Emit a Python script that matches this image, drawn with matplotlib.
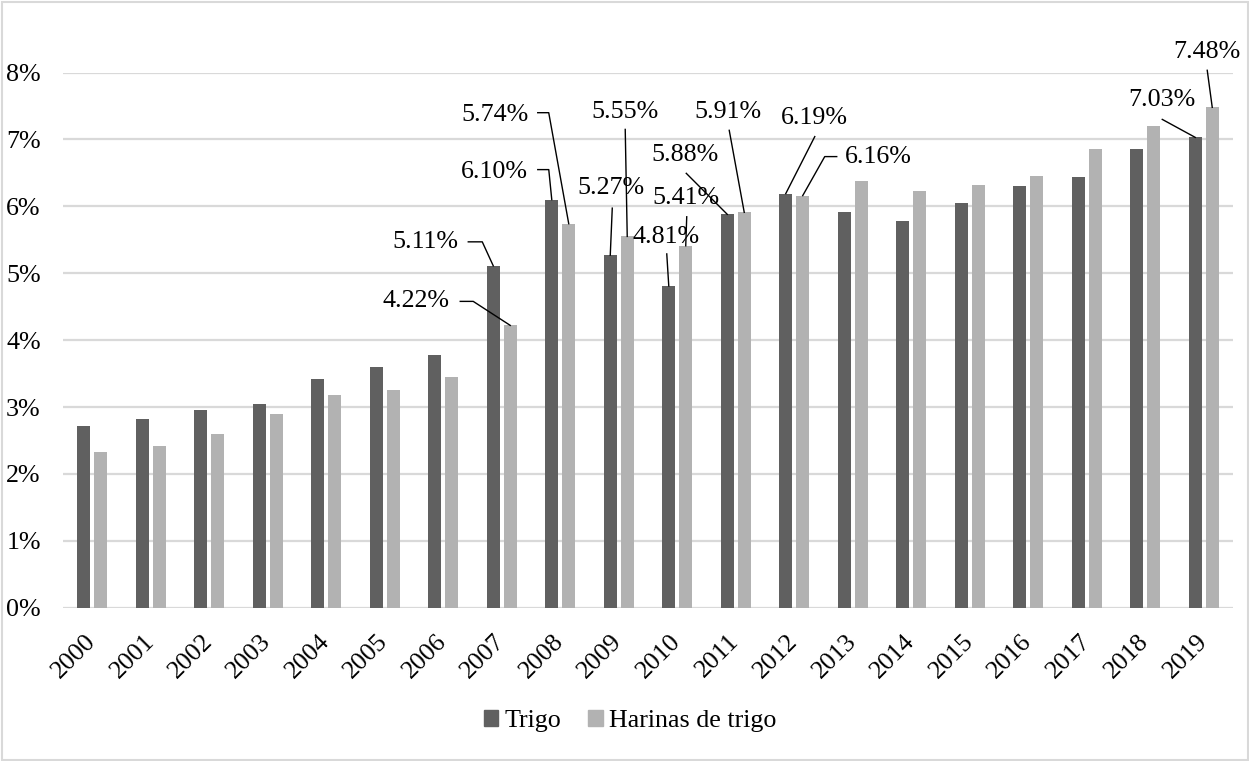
import matplotlib
matplotlib.use("Agg")
import matplotlib.pyplot as plt
import matplotlib.patches as mpatches
import numpy as np

plt.rcParams['font.family'] = ['Liberation Serif', 'DejaVu Serif']

years = [str(y) for y in range(2000, 2020)]
trigo = [2.71, 2.82, 2.95, 3.05, 3.42, 3.60, 3.77, 5.11, 6.10, 5.27,
         4.81, 5.88, 6.19, 5.92, 5.78, 6.05, 6.30, 6.44, 6.86, 7.03]
harinas = [2.33, 2.42, 2.60, 2.90, 3.18, 3.25, 3.45, 4.22, 5.74, 5.55,
           5.41, 5.91, 6.16, 6.38, 6.23, 6.32, 6.46, 6.85, 7.20, 7.48]
series_names = ["Trigo", "Harinas de trigo"]

# data labels: (series, year index, text offset px, leader-line offsets px)
labels = [
    (0, 7, (-68, 24), [(-25, 24), (-11, 24), (0, 0)]),
    (1, 7, (-94, 24), [(-50, 24), (-37, 24), (0, 0)]),
    (0, 8, (-57, 28), [(-14, 30), (-3, 30), (0, 0)]),
    (1, 8, (-74, 109), [(-31, 111), (-20, 111), (0, 0)]),
    (0, 9, (1, 67), [(2, 47), (0, 0)]),
    (1, 9, (-2, 124), [(-2, 107), (0, 0)]),
    (0, 10, (-3, 49), [(-2, 32), (0, 0)]),
    (1, 10, (0, 48), [(1, 29), (0, 0)]),
    (0, 11, (-42, 59), [(-41, 41), (0, 0)]),
    (1, 11, (-16, 100), [(-15, 82), (0, 0)]),
    (0, 12, (29, 76), [(29, 57), (0, 0)]),
    (1, 12, (76, 39), [(34, 39), (22, 39), (0, 0)]),
    (0, 19, (-33, 37), [(-33, 18), (0, 0)]),
    (1, 19, (-5, 55), [(-5, 37), (0, 0)]),
]

DARK = "#606060"
LIGHT = "#b2b2b2"
GRID = "#d9d9d9"
FS = 18.7

W, H = 1249, 761
fig = plt.figure(figsize=(W / 100, H / 100), dpi=100)
ax = fig.add_axes([63 / W, (H - 607.7) / H, (1233 - 63) / W, (607.7 - 72.5) / H])

x = np.arange(len(years))
bw = 0.22
off = 0.145
ax.bar(x - off, [v / 100 for v in trigo], bw, color=DARK, label=series_names[0], zorder=3)
ax.bar(x + off, [v / 100 for v in harinas], bw, color=LIGHT, label=series_names[1], zorder=3)

ax.set_xlim(-0.5, len(years) - 0.5)
ax.set_ylim(0, 0.08)
ax.set_yticks(np.arange(0, 0.081, 0.01))
ax.set_yticklabels([f"{int(round(t * 100))}%" for t in np.arange(0, 0.081, 0.01)], fontsize=FS)
ax.set_xticks(x)
ax.set_xticklabels(years, fontsize=FS, rotation=45, ha='right', va='center',
                   rotation_mode='anchor')
ax.tick_params(axis='y', length=0, pad=16)
ax.tick_params(axis='x', length=0, pad=22)
ax.grid(axis='y', color=GRID, linewidth=1.6, zorder=0)
for s in ax.spines.values():
    s.set_visible(False)

# data labels with leader lines
data = [trigo, harinas]
for si, yi, (tdx, tdy), pts in labels:
    v = data[si][yi]
    bx = x[yi] + (-off if si == 0 else off)
    anchor = ax.transData.transform((bx, v / 100))
    ax.text(anchor[0] + tdx, anchor[1] + tdy, f"{v:.2f}%", transform=None,
            ha='center', va='center', fontsize=FS, zorder=5)
    xs = [anchor[0] + p[0] for p in pts]
    ys = [anchor[1] + p[1] for p in pts]
    ax.plot(xs, ys, color='black', linewidth=1.0, transform=None,
            clip_on=False, zorder=4)

handles = [mpatches.Patch(color=DARK), mpatches.Patch(color=LIGHT)]
fig.legend(handles, series_names, loc='center', bbox_to_anchor=(630 / W, 1 - 721 / H),
           ncol=2, frameon=False, fontsize=FS, handlelength=0.55, handleheight=0.55,
           handletextpad=0.25, columnspacing=1.05)

fig.patches.append(mpatches.Rectangle((1.5 / W, 1.5 / H), (W - 3) / W, (H - 3) / H,
                                      transform=fig.transFigure, fill=False,
                                      edgecolor=GRID, linewidth=1.5))

fig.savefig("out.png", dpi=100)
